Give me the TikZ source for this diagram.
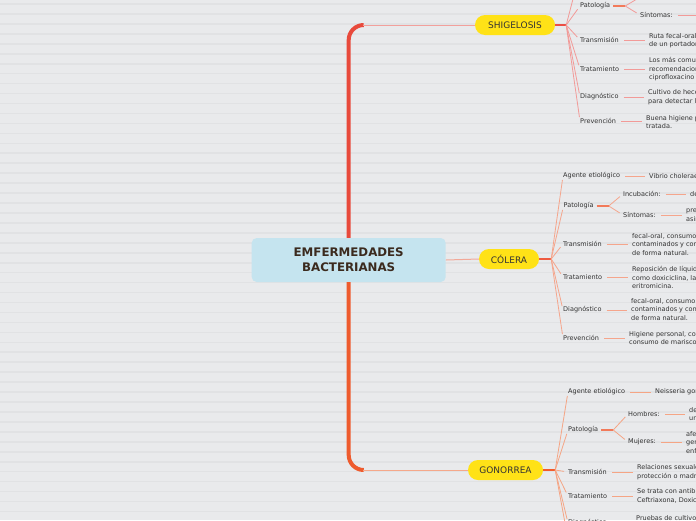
\documentclass[tikz,border=0pt]{standalone}
\usepackage{fontspec}
\setmainfont{DejaVu Sans}
\usetikzlibrary{calc}
\definecolor{bgc}{HTML}{E9EAEC}
\definecolor{stripec}{HTML}{E1E2E4}
\definecolor{trunktop}{HTML}{E84A3C}
\definecolor{trunkbot}{HTML}{EE5B2E}
\definecolor{centralc}{HTML}{C5E4EF}
\definecolor{ctext}{HTML}{3B2A1E}
\definecolor{yellowc}{HTML}{FFE217}
\definecolor{txt}{HTML}{333333}
\definecolor{linetop}{HTML}{F2A09C}
\definecolor{linemid}{HTML}{F2A898}
\definecolor{linebot}{HTML}{F5A88A}
\definecolor{stubs}{HTML}{EB4E44}
\definecolor{stubc}{HTML}{EE5A40}
\definecolor{stubg}{HTML}{F25C2C}
\definecolor{brs}{HTML}{F29A98}
\definecolor{brc}{HTML}{F5A58C}
\definecolor{brg}{HTML}{F5A585}
\definecolor{subthick}{HTML}{F27A5A}
\tikzset{
  lab/.style={inner sep=0pt, anchor=west, font=\fontsize{6.5}{8}\selectfont, text=txt},
  desc/.style={inner sep=0pt, anchor=west, align=left, font=\fontsize{6.5}{8.5}\selectfont, text=txt},
  topic/.style={fill=yellowc, rounded corners=10pt, minimum height=20pt, inner sep=0pt, font=\fontsize{9}{10}\selectfont, text=txt},
  central/.style={fill=centralc, rounded corners=5pt, minimum width=194pt, minimum height=44pt, inner sep=0pt, align=center, font=\bfseries\fontsize{11.8}{15}\selectfont, text=ctext},
  stub/.style={line width=2pt},
  br/.style={line width=0.8pt, shorten >=4pt},
  dc/.style={line width=0.8pt, shorten <=5pt, shorten >=4pt},
  subst/.style={line width=1.5pt, color=subthick, shorten <=3pt},
}
\begin{document}
\begin{tikzpicture}[x=1pt,y=-1pt]
\useasboundingbox (0,0) rectangle (696,520);
\clip (0,0) rectangle (696,520);
\fill[bgc] (0,0) rectangle (696,520);
\foreach \k in {0,...,52} {\fill[stripec] (0,{3.2+9.95*\k}) rectangle (696,{4.8+9.95*\k});}

% central and topics
\node[central] (center) at (348.7,260) {EMFERMEDADES\\ BACTERIANAS};
\node[topic, minimum width=80pt] (shig) at (515,25) {SHIGELOSIS};
\node[topic, minimum width=60pt] (col) at (509,259) {CÓLERA};
\node[topic, minimum width=75pt] (gon) at (505.5,470) {GONORREA};

% trunk
\coordinate (tc) at (center.north |- shig.west);
\coordinate (bc) at (center.south |- gon.west);
\draw[line width=4pt, trunktop, rounded corners=15pt] (center.north) -- (tc) -- ++(15,0);
\draw[line width=1pt, linetop] ($(tc)+(14,0)$) -- (shig.west);
\draw[line width=4pt, trunkbot, rounded corners=15pt] (center.south) -- (bc) -- ++(15,0);
\draw[line width=1pt, linebot] ($(bc)+(14,0)$) -- (gon.west);
\draw[line width=1pt, linemid] (center.east) -- (col.west);

% ---------- SHIGELOSIS ----------
\coordinate (sf) at ($(shig.east)+(11,0)$);
\draw[stub, stubs] (shig.east) -- (sf);
\coordinate (s1) at (579,-24);
\node[lab] (s2) at (580,6) {Patología};
\coordinate (s2f) at ($(s2.east)+(15,0)$);
\coordinate (s2a) at (642,-4);
\node[lab] (s2b) at (640,15) {Síntomas:};
\coordinate (s2bd) at (730,15);
\node[lab] (s3) at (580,40) {Transmisión};
\node[desc] (s3d) at (649,40.5) {Ruta fecal-oral,\\de un portador};
\node[lab] (s4) at (580,69) {Tratamiento};
\node[desc] (s4d) at (649,69.5) {Los más comunes\\recomendaciones\\ciprofloxacino};
\node[lab] (s5) at (580,97) {Diagnóstico};
\node[desc] (s5d) at (648,97) {Cultivo de heces\\para detectar la};
\node[lab] (s6) at (580,121) {Prevención};
\node[desc] (s6d) at (646,122) {Buena higiene personal\\tratada.};
\begin{scope}[brs]
\draw[br] (sf) -- (s1);
\foreach \n in {s2,s3,s4,s5,s6} {\draw[br] (sf) -- (\n.west);}
\draw[br] (s2f) -- (s2a);
\draw[br] (s2f) -- (s2b.west);
\draw[dc] (s2b.east) -- (s2bd);
\foreach \n in {s3,s4,s5,s6} {\draw[dc] (\n.east) -- (\n d.west |- \n.east);}
\end{scope}
\draw[subst] (s2.east) -- (s2f);

% ---------- COLERA ----------
\coordinate (cf) at ($(col.east)+(12,0)$);
\draw[stub, stubc] (col.east) -- (cf);
\node[lab] (c1) at (563,176) {Agente etiológico};
\node[desc] (c1d) at (649,176) {Vibrio cholerae};
\node[lab] (c2) at (563.5,206) {Patología};
\coordinate (c2f) at ($(c2.east)+(15,0)$);
\node[lab] (c2a) at (623,194) {Incubación:};
\node[desc] (c2ad) at (690,194) {desde};
\node[lab] (c2b) at (623,215) {Síntomas:};
\node[desc] (c2bd) at (686,215) {presenta\\asintomático};
\node[lab] (c3) at (563,244) {Transmisión};
\node[desc] (c3d) at (632,244.5) {fecal-oral, consumo de\\contaminados y con\\de forma natural.};
\node[lab] (c4) at (563,277) {Tratamiento};
\node[desc] (c4d) at (632,277.5) {Reposición de líquidos\\como doxiciclina, la\\eritromicina.};
\node[lab] (c5) at (563,310) {Diagnóstico};
\node[desc] (c5d) at (631,309.5) {fecal-oral, consumo de\\contaminados y con\\de forma natural.};
\node[lab] (c6) at (563,338) {Prevención};
\node[desc] (c6d) at (629,338) {Higiene personal, con\\consumo de mariscos};
\begin{scope}[brc]
\foreach \n in {c1,c2,c3,c4,c5,c6} {\draw[br] (cf) -- (\n.west);}
\draw[br] (c2f) -- (c2a.west);
\draw[br] (c2f) -- (c2b.west);
\foreach \n in {c1,c2a,c2b,c3,c4,c5,c6} {\draw[dc] (\n.east) -- (\n d.west |- \n.east);}
\end{scope}
\draw[subst] (c2.east) -- (c2f);

% ---------- GONORREA ----------
\coordinate (gf) at ($(gon.east)+(12,0)$);
\draw[stub, stubg] (gon.east) -- (gf);
\node[lab] (g1) at (568,392) {Agente etiológico};
\node[desc] (g1d) at (655,392) {Neisseria gonorrhoeae};
\node[lab] (g2) at (568,430) {Patología};
\coordinate (g2f) at ($(g2.east)+(15,0)$);
\node[lab] (g2a) at (628,414) {Hombres:};
\node[desc] (g2ad) at (689,414) {de\\ur};
\node[lab] (g2b) at (628,442) {Mujeres:};
\node[desc] (g2bd) at (686,442.5) {afe\\ger\\enf};
\node[lab] (g3) at (568,472) {Transmisión};
\node[desc] (g3d) at (637,472) {Relaciones sexuales\\protección o madre};
\node[lab] (g4) at (568,496) {Tratamiento};
\node[desc] (g4d) at (637,496) {Se trata con antibióticos\\Ceftriaxona, Doxiciclina};
\node[lab] (g5) at (568,523) {Diagnóstico};
\node[desc] (g5d) at (636,522) {Pruebas de cultivo\\};
\coordinate (g6) at (570,550);
\begin{scope}[brg]
\foreach \n in {g1,g2,g3,g4,g5} {\draw[br] (gf) -- (\n.west);}
\draw[br] (gf) -- (g6);
\draw[br] (g2f) -- (g2a.west);
\draw[br] (g2f) -- (g2b.west);
\foreach \n in {g1,g2a,g2b,g3,g4,g5} {\draw[dc] (\n.east) -- (\n d.west |- \n.east);}
\end{scope}
\draw[subst] (g2.east) -- (g2f);
\end{tikzpicture}
\end{document}
